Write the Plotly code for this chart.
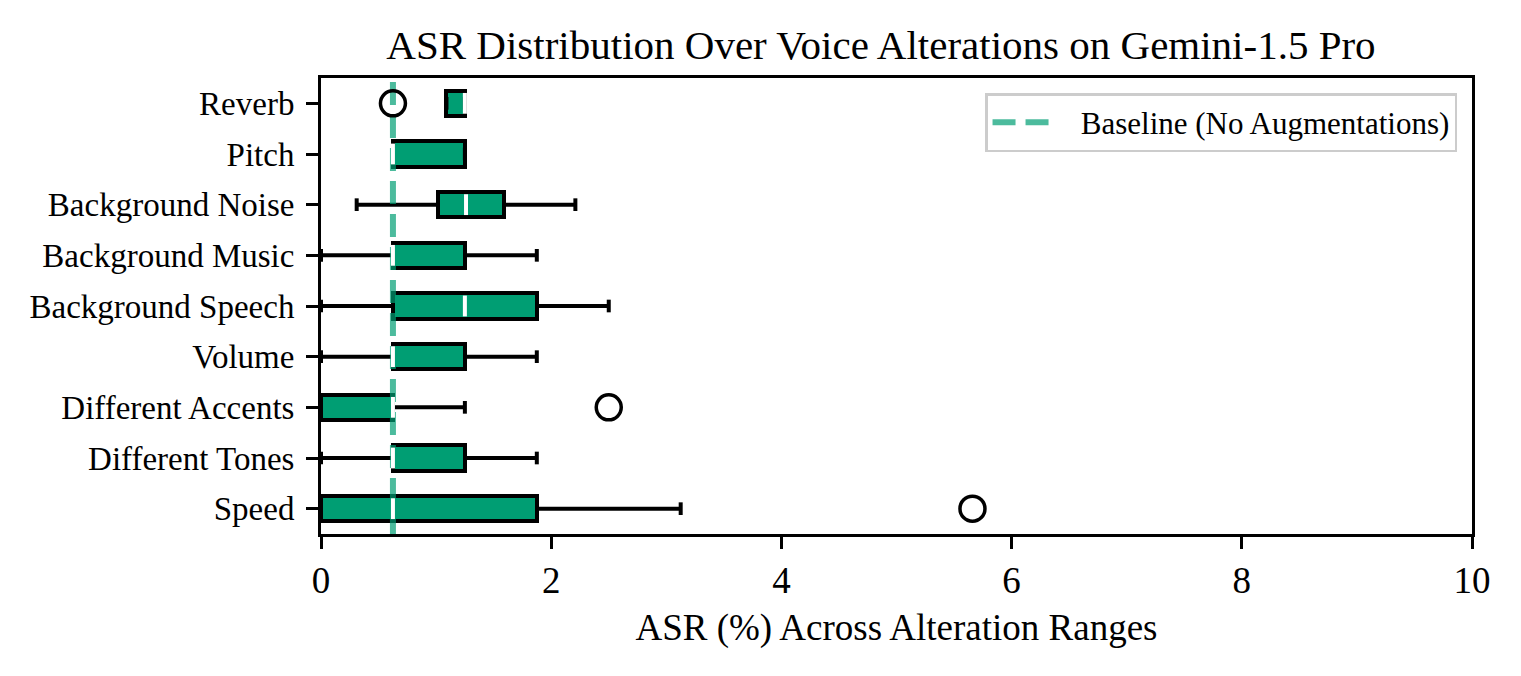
import plotly.graph_objects as go

# Categories listed top to bottom as shown
categories = ["Reverb", "Pitch", "Background Noise", "Background Music",
              "Background Speech", "Volume", "Different Accents",
              "Different Tones", "Speed"]
whisker_low = [1.09, 0.625, 0.31, 0.0, 0.0, 0.0, 0.0, 0.0, 0.0]
q1_vals =     [1.09, 0.625, 1.02, 0.625, 0.625, 0.625, 0.0, 0.625, 0.0]
median_vals = [1.25, 0.625, 1.26, 0.625, 1.25, 0.625, 0.625, 0.625, 0.625]
q3_vals =     [1.25, 1.25, 1.59, 1.25, 1.875, 1.25, 0.625, 1.25, 1.875]
whisker_high = [1.25, 1.25, 2.21, 1.875, 2.5, 1.875, 1.25, 1.875, 3.125]
outlier_cat = ["Reverb", "Different Accents", "Speed"]
outlier_vals = [0.625, 2.5, 5.66]
baseline_asr = 0.625
baseline_label = "Baseline (No Augmentations)"
x_ticks = [0, 2, 4, 6, 8, 10]

n = len(categories)
ypos = [n - 1 - i for i in range(n)]
ymap = dict(zip(categories, ypos))

FONT = "Liberation Serif"
BOX_GREEN = "#009E73"
BASE_GREEN = "rgba(0,158,115,0.7)"
half = 0.25
cap = 0.125

W, H = 1505, 660

fig = go.Figure()

fig.add_trace(go.Bar(
    orientation="h", y=ypos,
    x=[b - a for a, b in zip(q1_vals, q3_vals)], base=q1_vals, width=2 * half,
    marker=dict(color=BOX_GREEN, line=dict(color="black", width=4)),
    showlegend=False, hoverinfo="skip"))

wx, wy = [], []
for y, lo, a, b, hi in zip(ypos, whisker_low, q1_vals, q3_vals, whisker_high):
    wx += [lo, a, None, b, hi, None, lo, lo, None, hi, hi, None]
    wy += [y, y, None, y, y, None, y - cap, y + cap, None, y - cap, y + cap, None]
fig.add_trace(go.Scatter(x=wx, y=wy, mode="lines",
                         line=dict(color="black", width=4),
                         showlegend=False, hoverinfo="skip"))

fig.add_trace(go.Scatter(
    x=[baseline_asr, baseline_asr], y=[-0.5, n - 0.5], mode="lines",
    line=dict(color=BASE_GREEN, width=6, dash="23px,10px"),
    name="\u00a0\u00a0\u00a0" + baseline_label))

mx, my = [], []
for y, m in zip(ypos, median_vals):
    mx += [m, m, None]
    my += [y - half + 0.045, y + half - 0.045, None]
fig.add_trace(go.Scatter(x=mx, y=my, mode="lines",
                         line=dict(color="white", width=4),
                         showlegend=False, hoverinfo="skip"))

fig.add_trace(go.Scatter(
    x=outlier_vals, y=[ymap[c] for c in outlier_cat], mode="markers",
    marker=dict(symbol="circle-open", size=25, color="black",
                line=dict(width=3.5, color="black")),
    showlegend=False, hoverinfo="skip"))

fig.update_layout(
    width=W, height=H,
    margin=dict(l=313, r=41, t=70, b=134),
    paper_bgcolor="white", plot_bgcolor="white",
    font=dict(family=FONT, color="black"),
    title=dict(text="ASR Distribution Over Voice Alterations on Gemini-1.5 Pro",
               font=dict(family=FONT, size=41, color="black"),
               x=873 / W, xref="container", xanchor="center",
               y=1 - 37 / H, yref="container", yanchor="middle"),
    showlegend=True,
    legend=dict(x=0.987, y=0.967, xanchor="right", yanchor="top",
                bgcolor="white", bordercolor="#cccccc", borderwidth=2.5,
                itemwidth=60,
                font=dict(family=FONT, size=31, color="black")),
    bargap=0,
)

fig.update_xaxes(range=[0, 10], tickvals=x_ticks, ticktext=[str(t) for t in x_ticks],
                 showgrid=False, zeroline=False,
                 showline=True, linecolor="black", linewidth=3, mirror=True,
                 ticks="outside", ticklen=12, tickwidth=3, tickcolor="black",
                 tickfont=dict(family=FONT, size=37, color="black"),
                 title=dict(text="ASR (%) Across Alteration Ranges",
                            font=dict(family=FONT, size=37, color="black"),
                            standoff=14))
fig.update_yaxes(range=[-0.5, n - 0.5], tickvals=ypos, ticktext=categories,
                 showgrid=False, zeroline=False,
                 showline=True, linecolor="black", linewidth=3, mirror=True,
                 ticks="outside", ticklen=12, tickwidth=3, tickcolor="black",
                 ticklabelstandoff=5,
                 tickfont=dict(family=FONT, size=33, color="black"))

fig.write_html("out.html")
